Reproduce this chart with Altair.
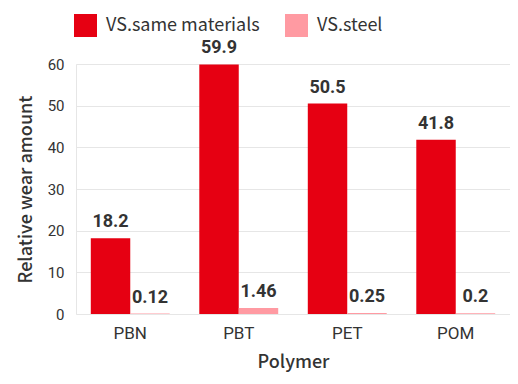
import altair as alt
import pandas as pd

polymers = ["PBN", "PBT", "PET", "POM"]
same_vals = [18.2, 59.9, 50.5, 41.8]
steel_vals = [0.12, 1.46, 0.25, 0.2]
series = ["VS.same materials", "VS.steel"]
y_ticks = [0, 10, 20, 30, 40, 50, 60]

rows = []
for p, a, b in zip(polymers, same_vals, steel_vals):
    rows.append({"Polymer": p, "Series": series[0], "Value": a, "Label": f"{a:g}"})
    rows.append({"Polymer": p, "Series": series[1], "Value": b, "Label": f"{b:g}"})
df = pd.DataFrame(rows)

TITLE_FONT = "Noto Sans CJK JP"

x = alt.X("Polymer:N", sort=polymers,
          scale=alt.Scale(paddingInner=0.2727, paddingOuter=0.1364),
          axis=alt.Axis(title="Polymer", labelAngle=0, labelFont="Roboto", labelFontSize=17,
                        labelColor="#333333", labelPadding=11, ticks=False, domain=False,
                        titleFont=TITLE_FONT, titleFontSize=18, titleFontWeight=500,
                        titleColor="#333333", titlePadding=12))
y = alt.Y("Value:Q", scale=alt.Scale(domain=[0, 60], nice=False),
          axis=alt.Axis(title="Relative wear amount", values=y_ticks, labelFont="Roboto",
                        labelFontSize=15, labelColor="#333333", labelPadding=12, ticks=False,
                        domain=False, gridColor="#e6e6e6", titleFont=TITLE_FONT,
                        titleFontSize=18, titleFontWeight=500, titleColor="#333333",
                        titlePadding=12))
color = alt.Color("Series:N", sort=series,
                  scale=alt.Scale(domain=series, range=["#e60012", "#ff9aa2"]),
                  legend=alt.Legend(title=None, orient="none", direction="horizontal",
                                    legendX=-2, legendY=-50, symbolType="square",
                                    symbolSize=529, symbolStrokeWidth=0, symbolOpacity=1,
                                    labelFont=TITLE_FONT, labelFontSize=18,
                                    labelColor="#333333", labelOffset=9, columnPadding=25,
                                    labelLimit=300))

base = alt.Chart(df).encode(x=x, xOffset=alt.XOffset("Series:N", sort=series))
bars = base.mark_bar(opacity=1).encode(y=y, color=color)
text = base.mark_text(dy=-7, baseline="bottom", font="Roboto", fontSize=18,
                      fontWeight="bold", color="#333333").encode(y="Value:Q", text="Label:N")

chart = (bars + text).properties(
    width=434, height=250,
    autosize=alt.AutoSizeParams(type="none"),
    padding={"left": 68, "top": 56, "right": 0, "bottom": 62},
).configure_view(stroke="#e6e6e6")

chart.save("out.html", embed_options={"renderer": "svg", "actions": False})
